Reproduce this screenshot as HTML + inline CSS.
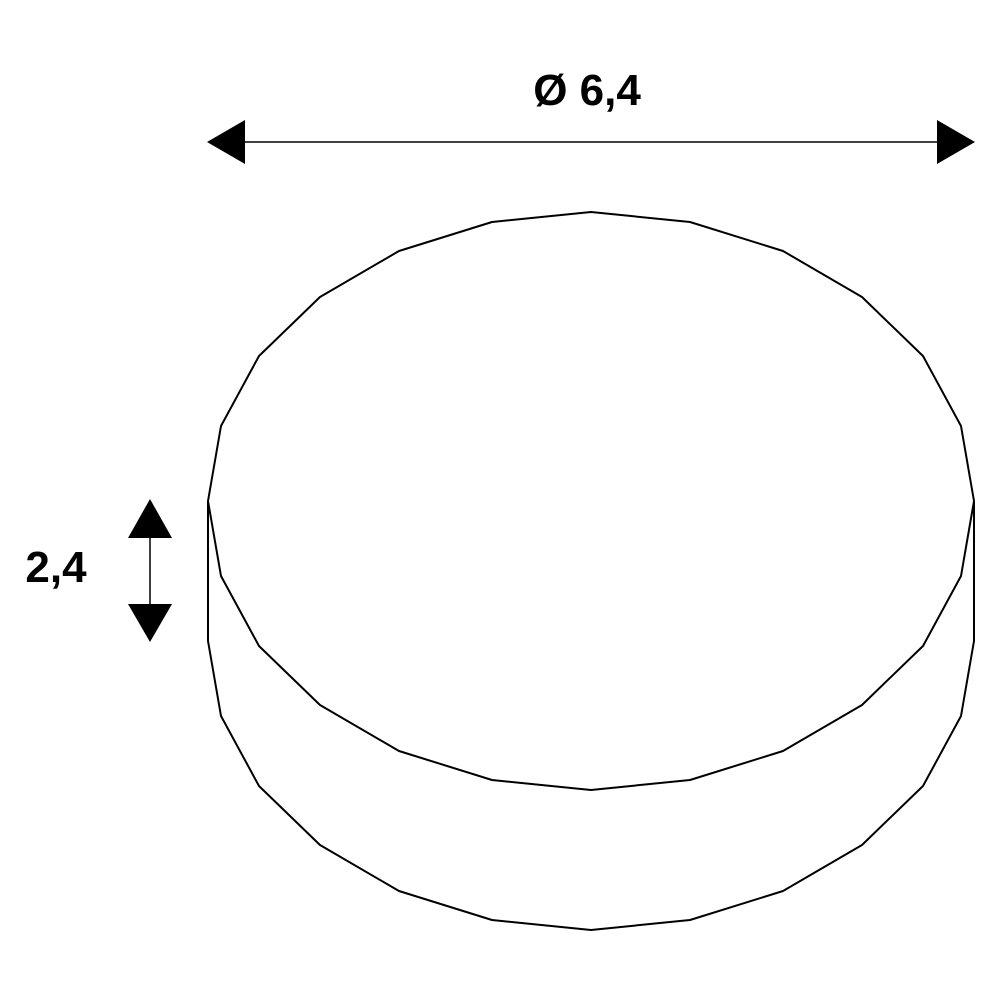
<!DOCTYPE html>
<html><head><meta charset="utf-8"><style>html,body{margin:0;padding:0;background:#fff}svg{display:block}</style></head>
<body>
<svg width="1000" height="1000" viewBox="0 0 1000 1000" xmlns="http://www.w3.org/2000/svg">
<g fill="none" stroke="#000" stroke-width="2" stroke-linejoin="round">
<polygon points="974,501 961,426 923,356 862,297 783,251 690,222 591,212 492,222 399,251 320,297 259,356 221,426 208,501 221,576 259,646 320,705 399,751 492,780 591,790 690,780 783,751 862,705 923,646 961,576"/>
<polyline points="208,501 208,641 221,716 259,786 320,845 399,891 492,920 591,930 690,920 783,891 862,845 923,786 961,716 974,641 974,501"/>
</g>
<line x1="240" y1="142" x2="942" y2="142" stroke="#000" stroke-width="1.5"/>
<polygon points="207,142 245,120 245,164" fill="#000"/>
<polygon points="975,142 937,120 937,164" fill="#000"/>
<line x1="150" y1="530" x2="150" y2="610" stroke="#000" stroke-width="1.5"/>
<polygon points="150,499 128,538 172,538" fill="#000"/>
<polygon points="150,642 128,604 172,604" fill="#000"/>
<text x="587" y="105" font-family="Liberation Sans, sans-serif" font-weight="bold" font-size="44" text-anchor="middle">Ø 6,4</text>
<text x="56" y="582" font-family="Liberation Sans, sans-serif" font-weight="bold" font-size="44" text-anchor="middle">2,4</text>
</svg>
</body></html>
